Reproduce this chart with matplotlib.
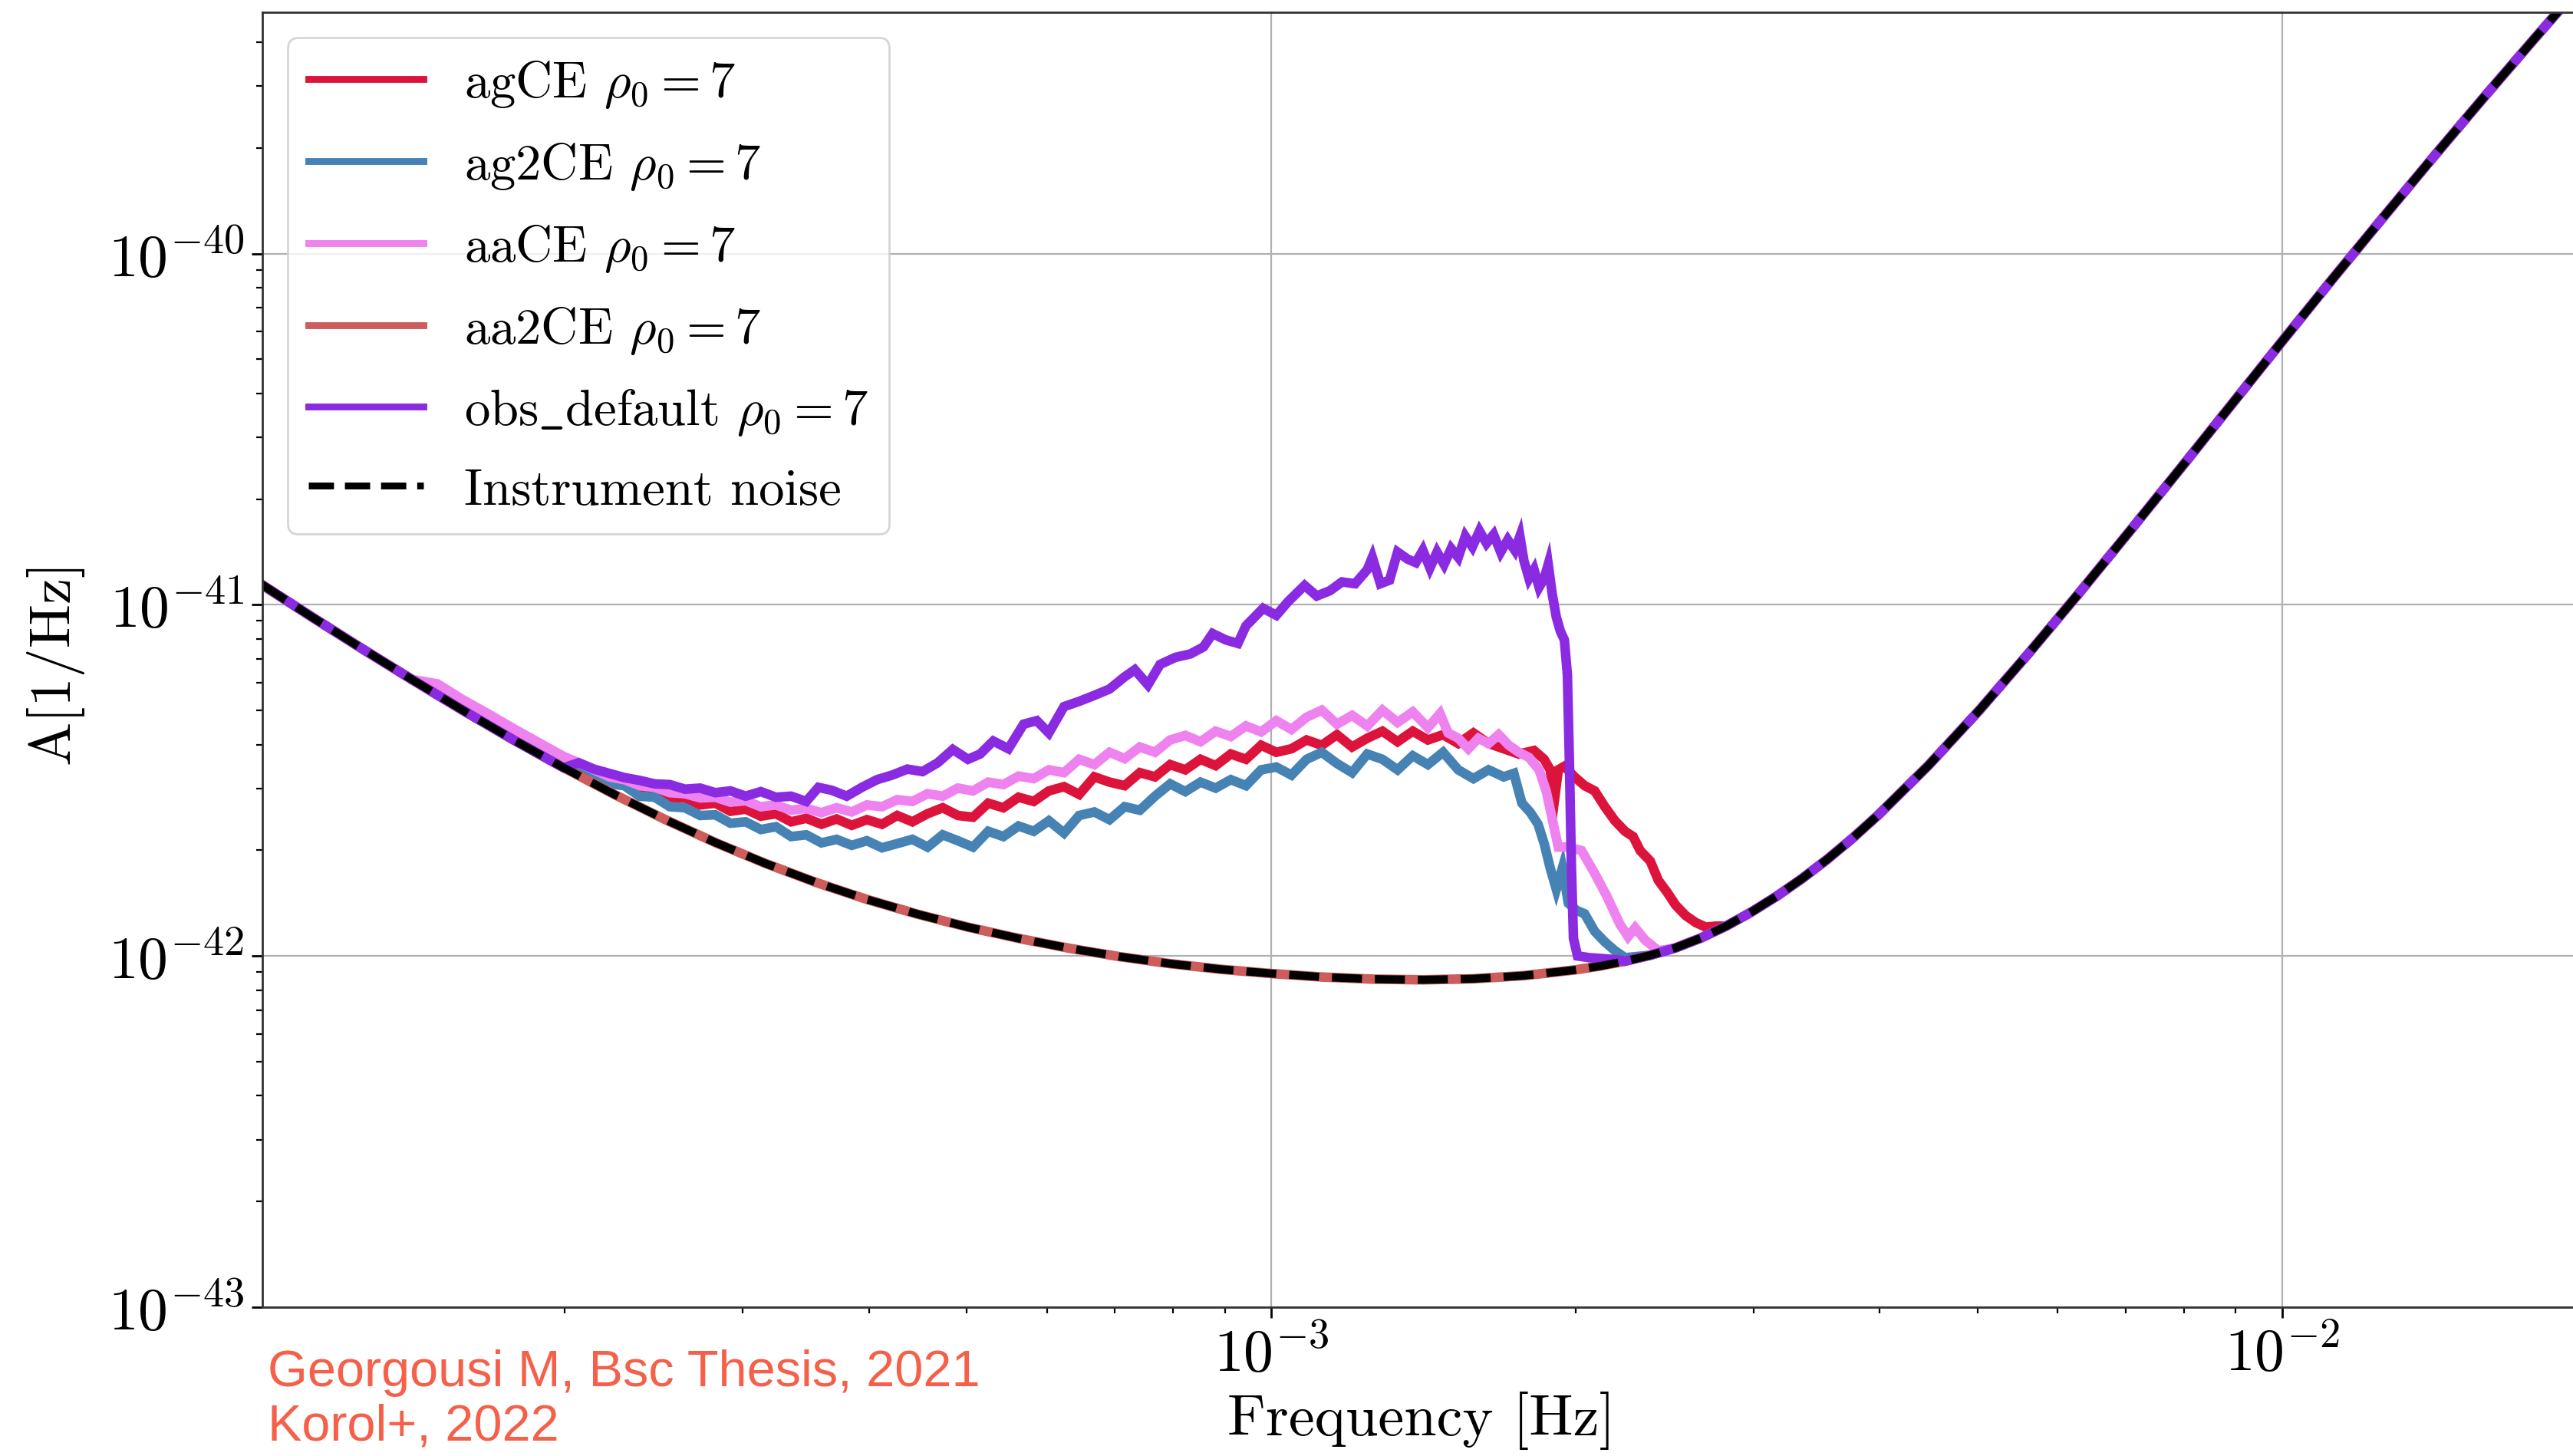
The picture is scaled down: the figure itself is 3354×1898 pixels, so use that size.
import numpy as np
import matplotlib
matplotlib.use('Agg')
import matplotlib.pyplot as plt

plt.rcParams['font.family'] = 'serif'
plt.rcParams['font.serif'] = ['cmr10']
plt.rcParams['mathtext.fontset'] = 'cm'
plt.rcParams['axes.formatter.use_mathtext'] = True

# instrument noise, log10(f [Hz]) and log10(A)
noise_logf = [-4.00, -3.95, -3.90, -3.85, -3.80, -3.75, -3.70, -3.65, -3.60, -3.55,
              -3.50, -3.45, -3.40, -3.35, -3.30, -3.25, -3.20, -3.15, -3.10, -3.05,
              -3.00, -2.95, -2.90, -2.85, -2.80, -2.75, -2.70, -2.675, -2.65, -2.625,
              -2.60, -2.575, -2.55, -2.525, -2.50, -2.475, -2.45, -2.425, -2.40, -2.35,
              -2.30, -2.25, -2.20, -2.15, -2.10, -2.05, -2.00, -1.95, -1.90, -1.85,
              -1.80, -1.75, -1.70]
noise_logA = [-40.940, -41.033, -41.124, -41.213, -41.300, -41.384, -41.464, -41.540, -41.611, -41.677,
              -41.737, -41.791, -41.839, -41.881, -41.918, -41.950, -41.978, -42.002, -42.022, -42.038,
              -42.050, -42.060, -42.066, -42.068, -42.065, -42.056, -42.040, -42.029, -42.015, -41.998,
              -41.977, -41.949, -41.915, -41.875, -41.830, -41.780, -41.725, -41.665, -41.600, -41.458,
              -41.302, -41.136, -40.964, -40.788, -40.610, -40.430, -40.250, -40.072, -39.897, -39.724,
              -39.554, -39.387, -39.222]

# foreground bumps above the noise
agce_logf = [-3.685, -3.670, -3.655, -3.640, -3.625, -3.610, -3.595, -3.580, -3.565, -3.550,
             -3.535, -3.520, -3.505, -3.490, -3.475, -3.460, -3.445, -3.430, -3.415, -3.400,
             -3.385, -3.370, -3.355, -3.340, -3.325, -3.310, -3.295, -3.280, -3.265, -3.250,
             -3.235, -3.220, -3.205, -3.190, -3.175, -3.160, -3.145, -3.130, -3.115, -3.100,
             -3.085, -3.070, -3.055, -3.040, -3.025, -3.010, -2.995, -2.980, -2.965, -2.950,
             -2.935, -2.920, -2.905, -2.890, -2.875, -2.860, -2.845, -2.830, -2.815, -2.800,
             -2.785, -2.770, -2.755, -2.740, -2.730, -2.724, -2.720, -2.716, -2.710, -2.700,
             -2.690, -2.680, -2.670, -2.660, -2.650, -2.642, -2.635, -2.625, -2.617, -2.608,
             -2.600, -2.590, -2.580, -2.570, -2.560]
agce_logA = [-41.462, -41.478, -41.500, -41.505, -41.528, -41.530, -41.552, -41.550, -41.570, -41.565,
             -41.588, -41.582, -41.602, -41.595, -41.618, -41.608, -41.625, -41.610, -41.628, -41.612,
             -41.625, -41.600, -41.618, -41.595, -41.578, -41.600, -41.605, -41.565, -41.578, -41.548,
             -41.560, -41.530, -41.518, -41.540, -41.490, -41.505, -41.515, -41.478, -41.490, -41.455,
             -41.470, -41.440, -41.458, -41.425, -41.440, -41.400, -41.420, -41.410, -41.385, -41.400,
             -41.370, -41.405, -41.380, -41.360, -41.390, -41.360, -41.385, -41.370, -41.395, -41.365,
             -41.395, -41.410, -41.425, -41.415, -41.440, -41.470, -41.560, -41.470, -41.460, -41.490,
             -41.515, -41.530, -41.575, -41.615, -41.645, -41.660, -41.700, -41.730, -41.785, -41.820,
             -41.855, -41.885, -41.905, -41.918, -41.915]

ag2ce_logf = [-3.685, -3.670, -3.655, -3.640, -3.625, -3.610, -3.595, -3.580, -3.565, -3.550,
              -3.535, -3.520, -3.505, -3.490, -3.475, -3.460, -3.445, -3.430, -3.415, -3.400,
              -3.385, -3.370, -3.355, -3.340, -3.325, -3.310, -3.295, -3.280, -3.265, -3.250,
              -3.235, -3.220, -3.205, -3.190, -3.175, -3.160, -3.145, -3.130, -3.115, -3.100,
              -3.085, -3.070, -3.055, -3.040, -3.025, -3.010, -2.995, -2.980, -2.965, -2.950,
              -2.935, -2.920, -2.905, -2.890, -2.875, -2.860, -2.845, -2.830, -2.815, -2.800,
              -2.785, -2.770, -2.760, -2.752, -2.744, -2.736, -2.730, -2.724, -2.718, -2.712,
              -2.706, -2.698, -2.690, -2.680, -2.670, -2.660, -2.650]
ag2ce_logA = [-41.455, -41.480, -41.510, -41.515, -41.545, -41.548, -41.575, -41.578, -41.600, -41.598,
              -41.622, -41.618, -41.640, -41.632, -41.660, -41.655, -41.678, -41.668, -41.685, -41.672,
              -41.692, -41.680, -41.668, -41.690, -41.655, -41.672, -41.690, -41.645, -41.660, -41.630,
              -41.645, -41.615, -41.650, -41.600, -41.590, -41.612, -41.575, -41.585, -41.545, -41.510,
              -41.532, -41.505, -41.522, -41.498, -41.515, -41.470, -41.462, -41.485, -41.440, -41.420,
              -41.452, -41.478, -41.425, -41.440, -41.470, -41.430, -41.455, -41.420, -41.470, -41.495,
              -41.470, -41.490, -41.480, -41.565, -41.590, -41.625, -41.680, -41.750, -41.810, -41.750,
              -41.850, -41.870, -41.880, -41.930, -41.960, -41.985, -42.005]

aace_logf = [-3.825, -3.800, -3.775, -3.750, -3.725, -3.700, -3.685, -3.670, -3.655, -3.640,
             -3.625, -3.610, -3.595, -3.580, -3.565, -3.550, -3.535, -3.520, -3.505, -3.490,
             -3.475, -3.460, -3.445, -3.430, -3.415, -3.400, -3.385, -3.370, -3.355, -3.340,
             -3.325, -3.310, -3.295, -3.280, -3.265, -3.250, -3.235, -3.220, -3.205, -3.190,
             -3.175, -3.160, -3.145, -3.130, -3.115, -3.100, -3.085, -3.070, -3.055, -3.040,
             -3.025, -3.010, -2.995, -2.980, -2.965, -2.950, -2.935, -2.920, -2.905, -2.890,
             -2.875, -2.860, -2.845, -2.833, -2.825, -2.815, -2.805, -2.795, -2.785, -2.775,
             -2.765, -2.755, -2.745, -2.735, -2.728, -2.722, -2.716, -2.705, -2.693, -2.680,
             -2.668, -2.655, -2.647, -2.640, -2.630, -2.617, -2.605]
aace_logA = [-41.225, -41.270, -41.310, -41.352, -41.392, -41.432, -41.450, -41.470, -41.490, -41.498,
             -41.515, -41.520, -41.535, -41.538, -41.550, -41.548, -41.562, -41.558, -41.575, -41.570,
             -41.585, -41.580, -41.592, -41.578, -41.590, -41.570, -41.575, -41.555, -41.560, -41.538,
             -41.545, -41.522, -41.530, -41.505, -41.512, -41.488, -41.495, -41.470, -41.478, -41.440,
             -41.455, -41.420, -41.438, -41.405, -41.420, -41.385, -41.372, -41.390, -41.360, -41.375,
             -41.345, -41.362, -41.330, -41.355, -41.320, -41.300, -41.340, -41.315, -41.345, -41.300,
             -41.335, -41.305, -41.350, -41.310, -41.365, -41.380, -41.410, -41.380, -41.395, -41.370,
             -41.400, -41.420, -41.435, -41.470, -41.530, -41.610, -41.690, -41.690, -41.700, -41.765,
             -41.830, -41.910, -41.945, -41.920, -41.955, -41.985, -41.980]

obs_logf = [-3.685, -3.670, -3.655, -3.640, -3.625, -3.610, -3.595, -3.580, -3.565, -3.550,
            -3.535, -3.520, -3.505, -3.490, -3.475, -3.460, -3.448, -3.435, -3.420, -3.405,
            -3.390, -3.375, -3.360, -3.345, -3.330, -3.315, -3.300, -3.288, -3.275, -3.260,
            -3.245, -3.232, -3.220, -3.205, -3.190, -3.175, -3.160, -3.145, -3.135, -3.122,
            -3.110, -3.095, -3.080, -3.067, -3.058, -3.045, -3.033, -3.025, -3.008, -2.995,
            -2.983, -2.967, -2.955, -2.942, -2.930, -2.917, -2.905, -2.900, -2.892, -2.883,
            -2.875, -2.865, -2.857, -2.850, -2.843, -2.836, -2.829, -2.822, -2.815, -2.808,
            -2.801, -2.794, -2.787, -2.780, -2.773, -2.766, -2.759, -2.754, -2.750, -2.745,
            -2.740, -2.735, -2.730, -2.726, -2.722, -2.718, -2.714, -2.710, -2.707, -2.705,
            -2.703, -2.701, -2.697, -2.685, -2.670, -2.655]
obs_logA = [-41.450, -41.468, -41.480, -41.492, -41.500, -41.510, -41.512, -41.525, -41.522, -41.535,
            -41.530, -41.545, -41.532, -41.548, -41.545, -41.560, -41.520, -41.528, -41.545, -41.520,
            -41.498, -41.485, -41.468, -41.475, -41.450, -41.412, -41.440, -41.425, -41.388, -41.410,
            -41.340, -41.330, -41.365, -41.290, -41.275, -41.258, -41.240, -41.205, -41.185, -41.228,
            -41.170, -41.150, -41.140, -41.120, -41.082, -41.100, -41.110, -41.060, -41.010, -41.030,
            -40.990, -40.945, -40.975, -40.960, -40.935, -40.940, -40.900, -40.865, -40.940, -40.930,
            -40.850, -40.870, -40.880, -40.845, -40.895, -40.850, -40.885, -40.840, -40.865, -40.805,
            -40.835, -40.790, -40.825, -40.800, -40.850, -40.815, -40.845, -40.805, -40.875, -40.925,
            -40.900, -40.950, -40.925, -40.885, -40.970, -41.035, -41.075, -41.100, -41.200, -41.450,
            -41.750, -41.950, -42.000, -42.005, -42.008, -42.012]

labels = [r'agCE $\rho_0 = 7$', r'ag2CE $\rho_0 = 7$', r'aaCE $\rho_0 = 7$',
          r'aa2CE $\rho_0 = 7$', r'obs$\_$default $\rho_0 = 7$', 'Instrument noise']
colors = ['crimson', 'steelblue', 'violet', 'indianred', 'blueviolet', 'black']


def stitch(bump_f, bump_a):
    # noise outside the bump, bump values inside
    nf = np.array(noise_logf)
    na = np.array(noise_logA)
    lo, hi = bump_f[0], bump_f[-1]
    before = nf < lo - 1e-9
    after = nf > hi + 1e-9
    f = np.concatenate([nf[before], bump_f, nf[after]])
    a = np.concatenate([na[before], bump_a, na[after]])
    return 10 ** f, 10 ** a


fig = plt.figure(figsize=(16.77, 9.495), dpi=200)
ax = fig.add_axes([0.1020, 0.1022, 0.9016, 0.8888])

curves = [stitch(agce_logf, agce_logA),
          stitch(ag2ce_logf, ag2ce_logA),
          stitch(aace_logf, aace_logA),
          (10 ** np.array(noise_logf), 10 ** np.array(noise_logA)),
          stitch(obs_logf, obs_logA)]

for (f, a), lab, c in zip(curves, labels[:5], colors[:5]):
    ax.plot(f, a, color=c, lw=4.5, label=lab, solid_joinstyle='miter')
ax.plot(10 ** np.array(noise_logf), 10 ** np.array(noise_logA), '--',
        color='black', lw=3.8, label=labels[5])

ax.set_xscale('log')
ax.set_yscale('log')
ax.set_xlim(10 ** -3.998, 10 ** -1.703)
ax.set_ylim(1e-43, 10 ** -39.313)
ax.grid(True, which='major', color='#b0b0b0', lw=0.8)
ax.tick_params(which='major', labelsize=28, length=5, width=1)
ax.tick_params(which='minor', length=3, width=0.8)
for s in ax.spines.values():
    s.set_linewidth(1.0)
    s.set_color('#333333')

leg = ax.legend(loc='upper left', fontsize=24, borderaxespad=0.5, handlelength=2.25,
                labelspacing=0.6)
for ln in leg.get_lines():
    ln.set_linewidth(3.2)

fig.text(0.5523, 0.0248, 'Frequency [Hz]', ha='center', va='center', fontsize=27.5)
fig.text(0.021, 0.546, 'A[1/Hz]', ha='center', va='center', rotation=90, fontsize=27.5)
fig.text(0.104, 0.0735, 'Georgousi M, Bsc Thesis, 2021\nKorol+, 2022', ha='left', va='top',
         fontsize=24, color='#F5604A', family='Liberation Sans', linespacing=1.17)

fig.savefig('out.png', dpi=200)
